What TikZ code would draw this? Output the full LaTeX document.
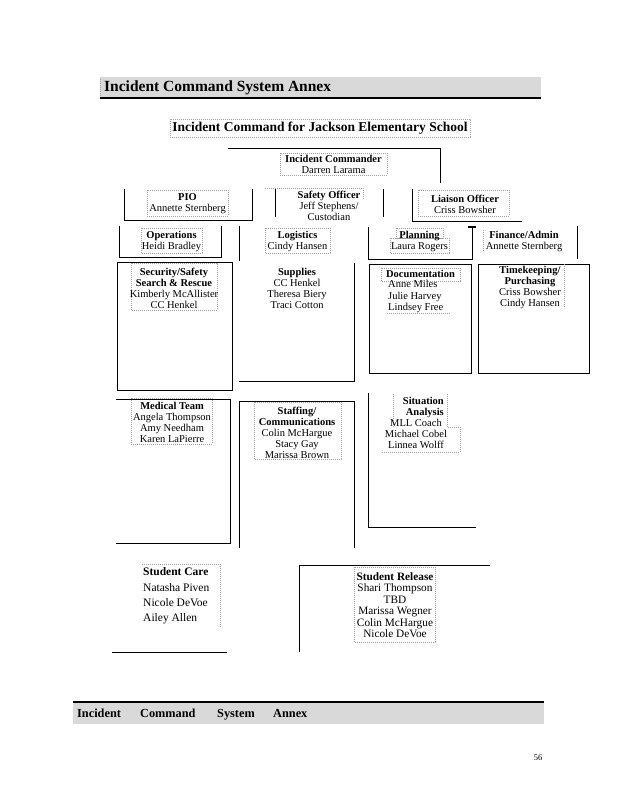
\documentclass[tikz,border=0pt]{standalone}
\usepackage{fontspec}
\setmainfont{Liberation Serif}
\begin{document}
\begin{tikzpicture}[x=1pt,y=-1pt,
  rule/.style={line width=0.95pt, black},
  dotbox/.style={draw=gray!75, line width=0.7pt, dash pattern=on 0.8pt off 1.2pt},
  txt/.style={inner sep=0pt, align=center, font=\fontsize{10.5}{11}\selectfont},
  bigtxt/.style={inner sep=0pt, align=center, font=\fontsize{11.3}{11.5}\selectfont},
  foot/.style={inner sep=0pt, anchor=base west, font=\bfseries\fontsize{12.3}{13}\selectfont}
  ]
\path[use as bounding box, fill=white] (0,0) rectangle (618,800);

% header
\fill[gray!30] (100,77) rectangle (541,97.5);
\draw[line width=1.2pt] (100,98) -- (541,98);
\draw[dotbox] (100,79) -- (100,97);
\node[inner sep=0pt, anchor=base west, font=\bfseries\fontsize{15.5}{16}\selectfont] (hdr) at (104,92) {Incident Command System Annex};

% title
\node[inner sep=0pt, font=\bfseries\fontsize{13.5}{14}\selectfont] (title) at (320,128) {Incident Command for Jackson Elementary School};
\draw[dotbox] (170,119) rectangle (470,137);

% solid frame lines
\draw[rule] (228,148) -- (440,148) -- (440,183);
\draw[rule] (124,189) -- (124,220) -- (252,220) -- (252,189);
\draw[rule] (275,189) -- (275,217);
\draw[rule] (383,189) -- (383,217);
\draw[rule] (412,189) -- (412,221) -- (522,221);
\draw[rule] (119,226) -- (119,257) -- (221,257) -- (221,226);
\draw[rule] (239,226) -- (239,261);
\draw[rule] (368,227) -- (368,259) -- (472.5,259);
\draw[rule] (472.5,227) -- (472.5,259);
\draw[line width=2pt] (468,227) -- (476,227);
\draw[rule] (577,226) -- (577,259);
\draw[rule] (117,262) rectangle (232,390);
\draw[rule] (354,263) -- (354,381) -- (239,381);
\draw[rule] (369,264) rectangle (471,373);
\draw[rule] (478,264) rectangle (589,373);
\draw[rule] (116,399) -- (230,399) -- (230,543) -- (116,543);
\draw[rule] (239,548) -- (239,401) -- (354,401) -- (354,548);
\draw[rule] (368,393) -- (368,527) -- (476,527);
\draw[rule] (112,652) -- (227,652);
\draw[rule] (299,652) -- (299,565) -- (490,565);

% Incident Commander
\draw[dotbox] (280,153) rectangle (387,175);
\node[txt] (ic) at (333.5,164.5) {\textbf{Incident Commander}\\Darren Larama};

% PIO
\draw[dotbox] (147,190) rectangle (228,216);
\node[txt] (pio) at (187.5,203.5) {\textbf{PIO}\\Annette Sternberg};

% Safety
\draw[dotbox] (265,188) -- (363,188) -- (363,199);
\node[txt] (safety) at (329,206) {\textbf{Safety Officer}\\Jeff Stephens/\\Custodian};

% Liaison
\draw[dotbox] (418,190) rectangle (509,216);
\node[txt] (liaison) at (465,204) {\textbf{Liaison Officer}\\Criss Bowsher};

% Operations
\draw[dotbox] (141,228) rectangle (202,253);
\node[txt] (ops) at (171.5,241.5) {\textbf{Operations}\\Heidi Bradley};

% Logistics
\draw[dotbox] (265,228) rectangle (330,253);
\node[txt] (log) at (297.5,241.5) {\textbf{Logistics}\\Cindy Hansen};

% Planning
\draw[dotbox] (396,228) rectangle (443,238);
\draw[dotbox] (390,238) rectangle (449,253);
\node[txt] (plan) at (419.5,241.5) {\textbf{Planning}\\Laura Rogers};

% Finance
\draw[dotbox] (483,230) -- (483,252);
\node[txt] (fin) at (524,241.5) {\textbf{Finance/Admin}\\Annette Sternberg};

% Security
\draw[dotbox] (131,263) rectangle (217,310);
\node[txt] (sec) at (174,288.5) {\textbf{Security/Safety}\\\textbf{Search \& Rescue}\\Kimberly McAllister\\CC Henkel};

% Supplies
\node[txt] (sup) at (297,288.5) {\textbf{Supplies}\\CC Henkel\\Theresa Biery\\Traci Cotton};

% Documentation
\draw[dotbox] (381,268) rectangle (460,281);
\node[txt] (doc) at (420.5,274) {\textbf{Documentation}};
\node[txt, align=left, anchor=west, font=\fontsize{10.5}{11.5}\selectfont] (docn) at (388,296.5) {Anne Miles\\Julie Harvey\\Lindsey Free};
\draw[dotbox] (387,313) -- (450,313);

% Timekeeping
\draw[dotbox] (564,264) -- (564,308);
\node[txt] (time) at (530,287) {\textbf{Timekeeping/}\\\textbf{Purchasing}\\Criss Bowsher\\Cindy Hansen};

% Medical
\draw[dotbox] (131,398) rectangle (212,444);
\node[txt] (med) at (172,422) {\textbf{Medical Team}\\Angela Thompson\\Amy Needham\\Karen LaPierre};

% Staffing
\draw[dotbox] (254,402) rectangle (341,459);
\node[txt] (staff) at (297,432.5) {\textbf{Staffing/}\\\textbf{Communications}\\Colin McHargue\\Stacy Gay\\Marissa Brown};

% Situation Analysis
\draw[dotbox] (393,394) -- (393,427);
\draw[dotbox] (447,394) -- (447,427) -- (460,427) -- (460,452) -- (381,452);
\node[txt, align=right, anchor=east] (sit) at (444,407) {\textbf{Situation}\\\textbf{Analysis}};
\node[txt] (sitn) at (416,434) {MLL Coach\\Michael Cobel\\Linnea Wolff};

% Student Care
\draw[dotbox] (142,564) -- (220,564) -- (220,627);
\node[inner sep=0pt, align=left, anchor=west, font=\fontsize{11.5}{15.3}\selectfont] (care) at (143,596) {\textbf{Student Care}\\Natasha Piven\\Nicole DeVoe\\Ailey Allen};

% Student Release
\draw[dotbox] (354,567) rectangle (435,642);
\node[bigtxt] (rel) at (395,605) {\textbf{Student Release}\\Shari Thompson\\TBD\\Marissa Wegner\\Colin McHargue\\Nicole DeVoe};

% footer
\fill[gray!30] (73,702.5) rectangle (544,724);
\draw[line width=1.2pt] (73,702) -- (544,702);
\node[foot] (f1) at (77,717) {Incident};
\node[foot] (f2) at (140,717) {Command};
\node[foot] (f3) at (217,717) {System};
\node[foot] (f4) at (273,717) {Annex};
\node[inner sep=0pt, font=\fontsize{8.5}{9}\selectfont] (pg) at (538,758) {56};
\end{tikzpicture}
\end{document}
